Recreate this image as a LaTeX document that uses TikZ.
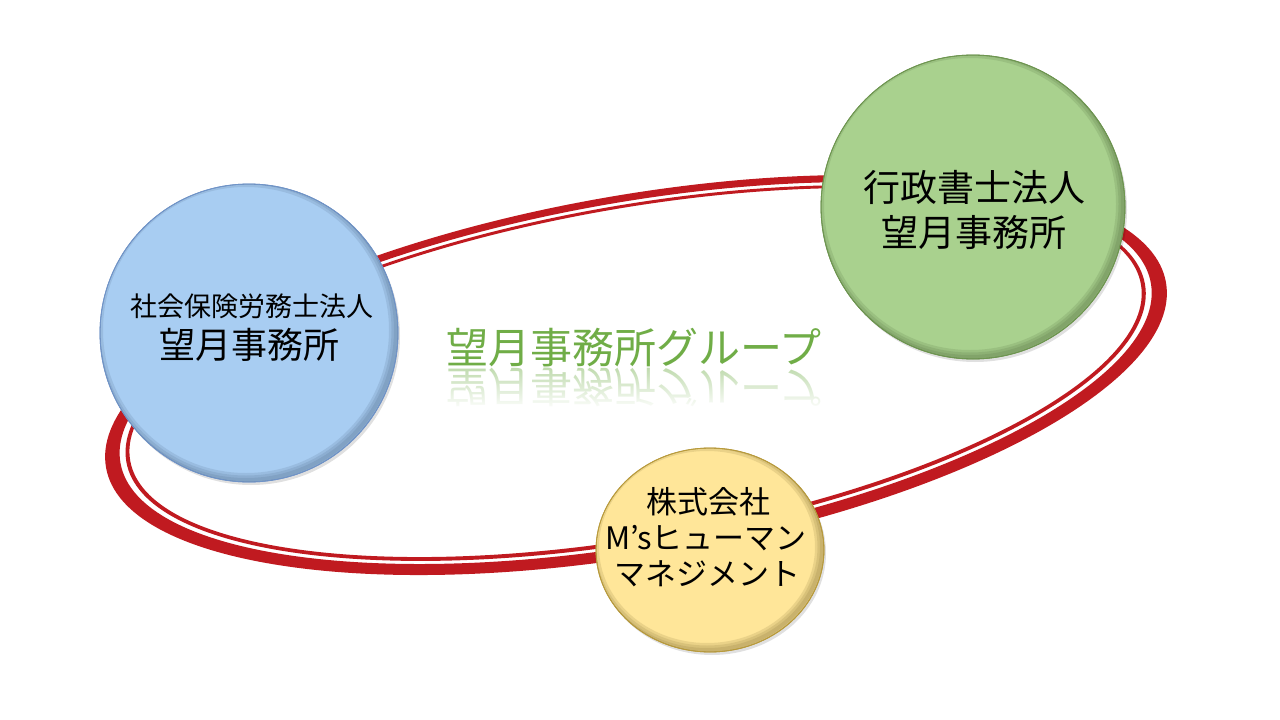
\documentclass[tikz,border=0pt]{standalone}
\usepackage{fontspec}
\newfontfamily\jp{Noto Sans CJK JP}
\usetikzlibrary{fadings,shapes.geometric}
\definecolor{ringred}{RGB}{192,26,32}
\definecolor{bluefill}{RGB}{168,205,242}
\definecolor{blueedge}{RGB}{112,148,200}
\definecolor{greenfill}{RGB}{169,209,142}
\definecolor{greenedge}{RGB}{110,150,80}
\definecolor{yellowfill}{RGB}{255,230,153}
\definecolor{yellowedge}{RGB}{185,155,60}
\definecolor{titlegreen}{RGB}{112,173,71}
\tikzset{
  orgshape/.style={inner sep=0pt, line width=0.8pt},
  rimA/.style={opacity=0.14, line width=4pt},
  rimB/.style={opacity=0.14, line width=9pt},
  rimC/.style={opacity=0.14, line width=14pt},
  orgtext/.style={inner sep=0pt, text=black},
}
\begin{document}
\begin{tikzpicture}[x=1pt,y=-1pt]
\useasboundingbox (0,0) rectangle (1280,720);
\fill[white] (0,0) rectangle (1280,720);

% red double ring
\begin{scope}[shift={(636,375)}, rotate=9.9]
  \fill[ringred, even odd rule]
    (0,0) ellipse [x radius=538pt, y radius=180pt]
    (0,-2) ellipse [x radius=523pt, y radius=171pt];
  \fill[ringred, even odd rule]
    (0,-2) ellipse [x radius=517pt, y radius=168pt]
    (0,-2.5) ellipse [x radius=513pt, y radius=164.5pt];
\end{scope}

% title with reflection
\node[orgtext, font=\jp\fontsize{42}{46}\selectfont, text=titlegreen, opacity=0.45, yscale=-1]
  (titlerefl) at (634,387) {望月事務所グループ};
\fill[white, path fading=north] (430,366) rectangle (845,410);
\node[orgtext, font=\jp\fontsize{42}{46}\selectfont, text=titlegreen]
  (title) at (634,348) {望月事務所グループ};

% blue circle
\fill[black, opacity=0.12] (251,336) circle (149pt);
\node[orgshape, circle, minimum size=298pt, fill=bluefill, draw=blueedge] (sharoushi) at (249,333) {};
\begin{scope}
  \clip (sharoushi.center) circle (149pt);
  \draw[blueedge!60!black, rimA] (246,330) circle (150pt);
  \draw[blueedge!60!black, rimB] (246,330) circle (150pt);
  \draw[blueedge!60!black, rimC] (246,330) circle (150pt);
\end{scope}
\draw[blueedge, line width=0.8pt] (sharoushi.center) circle (149pt);
\node[orgtext, font=\jp\fontsize{27}{30}\selectfont] (sharoushiA) at (252,306) {社会保険労務士法人};
\node[orgtext, font=\jp\fontsize{36}{40}\selectfont] (sharoushiB) at (249,345) {望月事務所};

% green circle
\fill[black, opacity=0.12] (975,210) circle (152pt);
\node[orgshape, circle, minimum size=304pt, fill=greenfill, draw=greenedge] (gyousei) at (973,207) {};
\begin{scope}
  \clip (gyousei.center) circle (152pt);
  \draw[greenedge!60!black, rimA] (970,204) circle (153pt);
  \draw[greenedge!60!black, rimB] (970,204) circle (153pt);
  \draw[greenedge!60!black, rimC] (970,204) circle (153pt);
\end{scope}
\draw[greenedge, line width=0.8pt] (gyousei.center) circle (152pt);
\node[orgtext, font=\jp\fontsize{37}{40}\selectfont] (gyouseiA) at (974,187) {行政書士法人};
\node[orgtext, font=\jp\fontsize{37}{40}\selectfont] (gyouseiB) at (974,232) {望月事務所};

% yellow circle
\fill[black, opacity=0.12] (712,553) ellipse [x radius=114pt, y radius=102pt];
\node[orgshape, ellipse, minimum width=228pt, minimum height=204pt, fill=yellowfill, draw=yellowedge] (ms) at (710,550) {};
\begin{scope}
  \clip (ms.center) ellipse [x radius=114pt, y radius=102pt];
  \draw[yellowedge!60!black, rimA] (707,547) ellipse [x radius=115pt, y radius=103pt];
  \draw[yellowedge!60!black, rimB] (707,547) ellipse [x radius=115pt, y radius=103pt];
  \draw[yellowedge!60!black, rimC] (707,547) ellipse [x radius=115pt, y radius=103pt];
\end{scope}
\draw[yellowedge, line width=0.8pt] (ms.center) ellipse [x radius=114pt, y radius=102pt];
\node[orgtext, font=\jp\fontsize{31}{34}\selectfont] (msA) at (708,502) {株式会社};
\node[orgtext, font=\jp\fontsize{31}{34}\selectfont] (msB) at (706,538) {M’sヒューマン};
\node[orgtext, font=\jp\fontsize{31}{34}\selectfont] (msC) at (707,574) {マネジメント};
\end{tikzpicture}
\end{document}
